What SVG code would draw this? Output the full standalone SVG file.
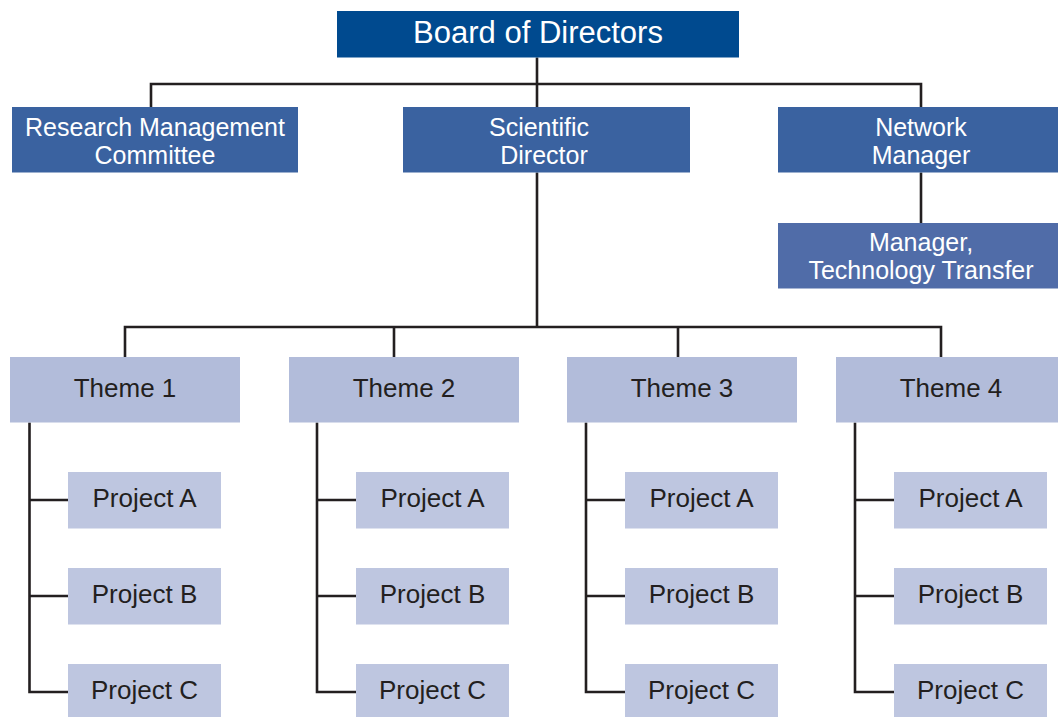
<svg xmlns="http://www.w3.org/2000/svg" width="1058" height="717" viewBox="0 0 1058 717">
<style>
text{font-family:"Liberation Sans",Arial,sans-serif;text-anchor:middle}
.w{fill:#ffffff;font-size:26px}
.w2{fill:#ffffff;font-size:25px}
.k{fill:#231f20;font-size:26px}
.c{fill:none;stroke:#231f20;stroke-width:2.6}
.top{fill:#004a8f}
.mid{fill:#3a62a0}
.mtt{fill:#506ca8}
.th{fill:#b2bcda}
.pr{fill:#bec6e0}
</style>
<rect width="1058" height="717" fill="#ffffff"/>
<g id="connectors">
<path class="c" d="M537 57.5V107M151 107V84H921V107M921 172.5V223"/>
<path class="c" d="M537 172.5V327M125 357V327H941V357M394 327V357M678 327V357"/>
<path class="c" d="M29.5 422.5V692H68M29.5 500H68M29.5 596H68"/>
<path class="c" d="M317 422.5V692H356M317 500H356M317 596H356"/>
<path class="c" d="M586 422.5V692H625M586 500H625M586 596H625"/>
<path class="c" d="M855 422.5V692H894M855 500H894M855 596H894"/>
</g>
<g id="board"><rect class="top" x="337" y="11" width="402" height="46.5"/><text class="w" x="538" y="43" style="font-size:31px">Board of Directors</text></g>
<g id="rmc"><rect class="mid" x="12" y="107" width="286" height="65.5"/><text class="w2" x="155" y="135.5">Research Management</text><text class="w2" x="155" y="163.5">Committee</text></g>
<g id="sd"><rect class="mid" x="403" y="107" width="287" height="65.5"/><text class="w2" x="539" y="135.5">Scientific</text><text class="w2" x="544" y="163.5">Director</text></g>
<g id="nm"><rect class="mid" x="778" y="107" width="286" height="65.5"/><text class="w2" x="921" y="135.5">Network</text><text class="w2" x="921" y="163.5">Manager</text></g>
<g id="mtt"><rect class="mtt" x="778" y="223" width="286" height="65.5"/><text class="w2" x="921" y="251">Manager,</text><text class="w2" x="921" y="279">Technology Transfer</text></g>
<g id="theme1"><rect class="th" x="10" y="357" width="230" height="65.5"/><text class="k" x="125" y="397">Theme 1</text></g>
<g id="theme2"><rect class="th" x="289" y="357" width="230" height="65.5"/><text class="k" x="404" y="397">Theme 2</text></g>
<g id="theme3"><rect class="th" x="567" y="357" width="230" height="65.5"/><text class="k" x="682" y="397">Theme 3</text></g>
<g id="theme4"><rect class="th" x="836" y="357" width="230" height="65.5"/><text class="k" x="951" y="397">Theme 4</text></g>
<g id="t1a"><rect class="pr" x="68" y="472" width="153" height="56.5"/><text class="k" x="144.5" y="507">Project A</text></g>
<g id="t1b"><rect class="pr" x="68" y="568" width="153" height="56.5"/><text class="k" x="144.5" y="603">Project B</text></g>
<g id="t1c"><rect class="pr" x="68" y="664" width="153" height="56.5"/><text class="k" x="144.5" y="699">Project C</text></g>
<g id="t2a"><rect class="pr" x="356" y="472" width="153" height="56.5"/><text class="k" x="432.5" y="507">Project A</text></g>
<g id="t2b"><rect class="pr" x="356" y="568" width="153" height="56.5"/><text class="k" x="432.5" y="603">Project B</text></g>
<g id="t2c"><rect class="pr" x="356" y="664" width="153" height="56.5"/><text class="k" x="432.5" y="699">Project C</text></g>
<g id="t3a"><rect class="pr" x="625" y="472" width="153" height="56.5"/><text class="k" x="701.5" y="507">Project A</text></g>
<g id="t3b"><rect class="pr" x="625" y="568" width="153" height="56.5"/><text class="k" x="701.5" y="603">Project B</text></g>
<g id="t3c"><rect class="pr" x="625" y="664" width="153" height="56.5"/><text class="k" x="701.5" y="699">Project C</text></g>
<g id="t4a"><rect class="pr" x="894" y="472" width="153" height="56.5"/><text class="k" x="970.5" y="507">Project A</text></g>
<g id="t4b"><rect class="pr" x="894" y="568" width="153" height="56.5"/><text class="k" x="970.5" y="603">Project B</text></g>
<g id="t4c"><rect class="pr" x="894" y="664" width="153" height="56.5"/><text class="k" x="970.5" y="699">Project C</text></g>
</svg>
